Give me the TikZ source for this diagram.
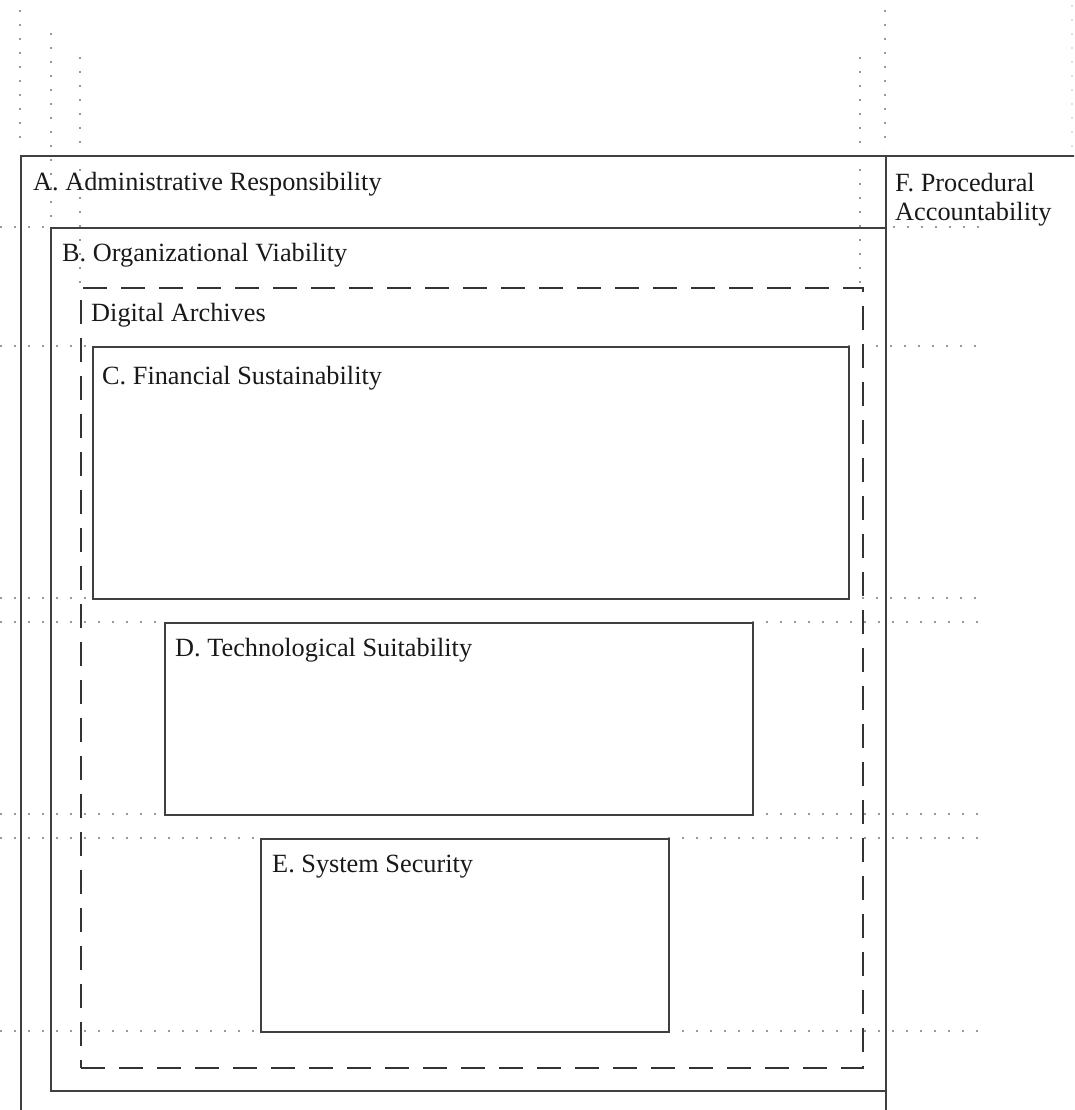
\documentclass[tikz,border=0pt]{standalone}
\usepackage{fontspec}
\setmainfont{Liberation Serif}
\begin{document}
\begin{tikzpicture}[x=1pt,y=-1pt,
  solidbox/.style={draw=black!75,line width=1.8pt,inner sep=0pt},
  dashbox/.style={draw=black!80,line width=1.8pt,dash pattern=on 24pt off 14pt,inner sep=0pt},
  guide/.style={draw=black!40,line width=1.6pt,dash pattern=on 1.6pt off 12.4pt},
  faintguide/.style={draw=black!12,line width=1.2pt,dash pattern=on 1.6pt off 12.4pt},
  lbl/.style={anchor=base west,inner sep=0pt,font=\fontsize{26.3}{30}\selectfont,text=black!90}]
\useasboundingbox (0,0) rectangle (1074,1110);
\clip (0,0) rectangle (1074,1110);
% guide lines (dotted)
\draw[guide] (20,10) -- (20,150);
\draw[guide] (51,33) -- (51,225);
\draw[guide] (80,57) -- (80,287);
\draw[guide] (860,57) -- (860,287);
\draw[guide] (885,10) -- (885,150);
\draw[faintguide] (1072,5) -- (1072,150);
\draw[guide] (0,227) -- (50,227);
\draw[guide] (893,227) -- (990,227);
\foreach \y/\l/\r in {346/92/848, 598/92/848, 622/164/752, 814/164/752, 838/260/668, 1031/260/668}{
  \draw[guide] (0,\y) -- (\l,\y);
  \draw[guide] (\r,\y) -- (985,\y);
}
% boxes
\node[solidbox,anchor=north west,minimum width=865pt,minimum height=980pt] (A) at (20,155) {};
\node[solidbox,anchor=north west,minimum width=200pt,minimum height=980pt] (F) at (885,155) {};
\node[solidbox,anchor=north west,minimum width=835pt,minimum height=863pt] (B) at (50,227) {};
\node[dashbox,anchor=north west,minimum width=782pt,minimum height=780pt] (DA) at (80,287) {};
\node[solidbox,anchor=north west,minimum width=756pt,minimum height=252pt] (C) at (92,346) {};
\node[solidbox,anchor=north west,minimum width=588pt,minimum height=192pt] (D) at (164,622) {};
\node[solidbox,anchor=north west,minimum width=408pt,minimum height=193pt] (E) at (260,838) {};
% labels
\node[lbl] (At) at (33,190) {A. Administrative Responsibility};
\node[lbl] (Bt) at (62,261) {B. Organizational Viability};
\node[lbl] (DAt) at (91,321) {Digital Archives};
\node[lbl] (Ct) at (102,384) {C. Financial Sustainability};
\node[lbl] (Dt) at (175,656) {D. Technological Suitability};
\node[lbl] (Et) at (272,872) {E. System Security};
\node[lbl] (Ft1) at (895,191) {F. Procedural};
\node[lbl] (Ft2) at (895,220) {Accountability};
\end{tikzpicture}
\end{document}
